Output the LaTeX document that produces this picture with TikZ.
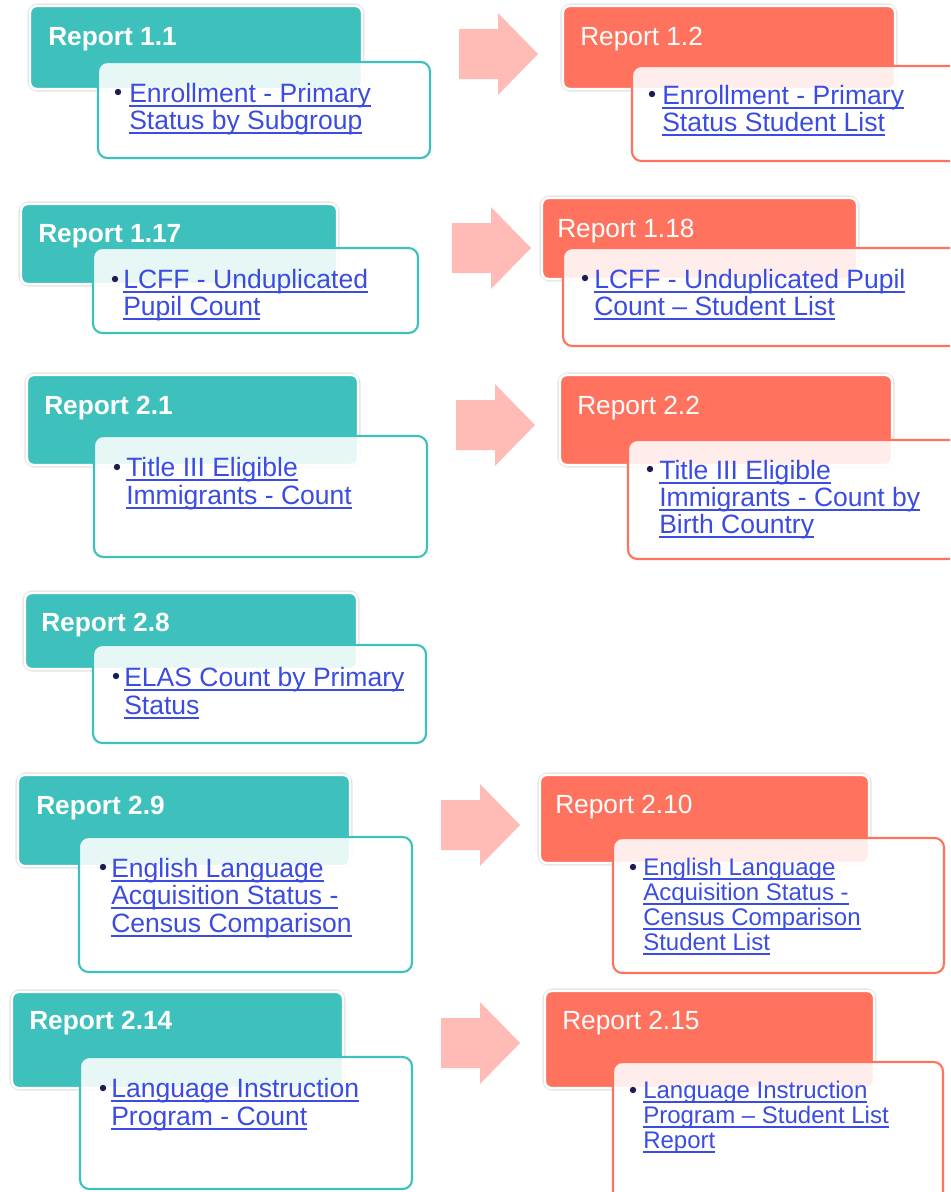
\documentclass[tikz,border=0pt]{standalone}
\usepackage{fontspec}
\setmainfont{Liberation Sans}
\newlength\lkw
\newcommand\lk[1]{\settowidth\lkw{#1}\rlap{\rule[-3.5pt]{\lkw}{1.1pt}}#1}
\definecolor{tealc}{RGB}{62,193,188}
\definecolor{coral}{RGB}{255,114,94}
\definecolor{arrowpink}{RGB}{255,187,181}
\definecolor{linkblue}{RGB}{58,76,226}
\definecolor{navy}{RGB}{28,28,84}
\tikzset{
  halo/.style={draw=black!10, line width=4pt, rounded corners=6pt},
  hdrbox/.style={draw=white, line width=1.8pt, rounded corners=5pt},
  detbox/.style={fill=white, fill opacity=0.88, line width=1.6pt, rounded corners=7pt},
  ttl/.style={anchor=base west, inner sep=0pt, text=white, font=\fontsize{19.7pt}{20pt}\selectfont\bfseries},
  ttln/.style={anchor=base west, inner sep=0pt, text=white, font=\fontsize{19.7pt}{20pt}\selectfont},
  lnk/.style={anchor=base west, inner sep=0pt, text=linkblue, font=\fontsize{19.9pt}{20pt}\selectfont},
  lnks/.style={anchor=base west, inner sep=0pt, text=linkblue, font=\fontsize{18pt}{18pt}\selectfont},
  bul/.style={circle, fill=navy, inner sep=0pt, minimum size=4.8pt},
  barrow/.style={fill=arrowpink}
}
\newcommand\hdr[5]{%
  \draw[halo] (#2,#3) rectangle (#4,#5);
  \draw[hdrbox, fill=#1] (#2,#3) rectangle (#4,#5);}
\newcommand\blkarrow[2]{%
  \fill[barrow] (#1,#2-25) -- (#1+39,#2-25) -- (#1+39,#2-41) -- (#1+79,#2)
    -- (#1+39,#2+41) -- (#1+39,#2+25) -- (#1,#2+25) -- cycle;}
\begin{document}
\begin{tikzpicture}[x=0.75pt,y=-0.75pt]
\useasboundingbox (0,0) rectangle (950,1192);
\clip (0,0) rectangle (950,1192);

% ---------- Row 1 ----------
\hdr{tealc}{30}{6}{362}{89}
\node[ttl] (t11) at (48,45) {Report 1.1};
\draw[detbox, draw=tealc] (98,62) rectangle (430,158);
\node[bul] (b11) at (118,92) {};
\node[lnk] (l11a) at (129,102) {\lk{Enrollment - Primary}};
\node[lnk] (l11b) at (129,129) {\lk{Status by Subgroup}};

\blkarrow{459}{54}

\hdr{coral}{563}{6}{895}{89}
\node[ttln] (t12) at (580,45) {Report 1.2};
\draw[detbox, draw=coral] (632,66) rectangle (960,161);
\node[bul] (b12) at (652,94) {};
\node[lnk] (l12a) at (662,104) {\lk{Enrollment - Primary}};
\node[lnk] (l12b) at (662,131) {\lk{Status Student List}};

% ---------- Row 2 ----------
\hdr{tealc}{21}{204}{337}{284}
\node[ttl] (t117) at (38,242) {Report 1.17};
\draw[detbox, draw=tealc] (93,248) rectangle (418,333);
\node[bul] (b117) at (115,279) {};
\node[lnk] (l117a) at (123,288) {\lk{LCFF - Unduplicated}};
\node[lnk] (l117b) at (123,315) {\lk{Pupil Count}};

\blkarrow{452}{248}

\hdr{coral}{542}{198}{857}{279}
\node[ttln] (t118) at (557,237) {Report 1.18};
\draw[detbox, draw=coral] (563,248) rectangle (960,346);
\node[bul] (b118) at (585,278) {};
\node[lnk] (l118a) at (594,288) {\lk{LCFF - Unduplicated Pupil}};
\node[lnk] (l118b) at (594,315) {\lk{Count – Student List}};

% ---------- Row 3 ----------
\hdr{tealc}{27}{375}{358}{465}
\node[ttl] (t21) at (44,414) {Report 2.1};
\draw[detbox, draw=tealc] (94,436) rectangle (427,557);
\node[bul] (b21) at (117,467) {};
\node[lnk] (l21a) at (126,476) {\lk{Title III Eligible}};
\node[lnk] (l21b) at (126,504) {\lk{Immigrants - Count}};

\blkarrow{456}{425}

\hdr{coral}{560}{375}{892}{465}
\node[ttln] (t22) at (577,414) {Report 2.2};
\draw[detbox, draw=coral] (628,440) rectangle (960,559);
\node[bul] (b22) at (650,469) {};
\node[lnk] (l22a) at (659,479) {\lk{Title III Eligible}};
\node[lnk] (l22b) at (659,506) {\lk{Immigrants - Count by}};
\node[lnk] (l22c) at (659,533) {\lk{Birth Country}};

% ---------- Row 4 ----------
\hdr{tealc}{25}{593}{357}{669}
\node[ttl] (t28) at (41,631) {Report 2.8};
\draw[detbox, draw=tealc] (93,645) rectangle (426,743);
\node[bul] (b28) at (116,676) {};
\node[lnk] (l28a) at (124,686) {\lk{ELAS Count by Primary}};
\node[lnk] (l28b) at (124,714) {\lk{Status}};

% ---------- Row 5 ----------
\hdr{tealc}{18}{775}{350}{866}
\node[ttl] (t29) at (36,814) {Report 2.9};
\draw[detbox, draw=tealc] (79,837) rectangle (412,972);
\node[bul] (b29) at (103,867) {};
\node[lnk] (l29a) at (111,877) {\lk{English Language}};
\node[lnk] (l29b) at (111,904) {\lk{Acquisition Status -}};
\node[lnk] (l29c) at (111,932) {\lk{Census Comparison}};

\blkarrow{441}{825}

\hdr{coral}{540}{775}{869}{863}
\node[ttln] (t210) at (555,813) {Report 2.10};
\draw[detbox, draw=coral] (613,838) rectangle (944,973);
\node[bul] (b210) at (633,867) {};
\node[lnks] (l210a) at (643,875) {\lk{English Language}};
\node[lnks] (l210b) at (643,900) {\lk{Acquisition Status -}};
\node[lnks] (l210c) at (643,925) {\lk{Census Comparison}};
\node[lnks] (l210d) at (643,950) {\lk{Student List}};

% ---------- Row 6 ----------
\hdr{tealc}{12}{992}{343}{1088}
\node[ttl] (t214) at (29,1029) {Report 2.14};
\draw[detbox, draw=tealc] (80,1057) rectangle (412,1189);
\node[bul] (b214) at (103,1088) {};
\node[lnk] (l214a) at (111,1097) {\lk{Language Instruction}};
\node[lnk] (l214b) at (111,1125) {\lk{Program - Count}};

\blkarrow{441}{1043}

\hdr{coral}{545}{991}{874}{1088}
\node[ttln] (t215) at (562,1029) {Report 2.15};
\draw[detbox, draw=coral] (613,1062) rectangle (943,1205);
\node[bul] (b215) at (633,1090) {};
\node[lnks] (l215a) at (643,1098) {\lk{Language Instruction}};
\node[lnks] (l215b) at (643,1123) {\lk{Program – Student List}};
\node[lnks] (l215c) at (643,1148) {\lk{Report}};
\end{tikzpicture}
\end{document}
